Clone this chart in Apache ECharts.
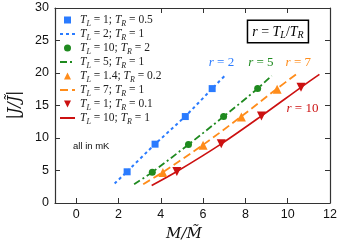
<!DOCTYPE html>
<html><head><meta charset="utf-8">
<script src="https://cdn.jsdelivr.net/npm/echarts@6/dist/echarts.min.js"></script>
<style>html,body{margin:0;padding:0;background:#fff}#c{width:342px;height:244px}</style>
</head><body><div id="c"></div>
<script>
// ---- data ----
const xTicks = [0, 2, 4, 6, 8, 10, 12];
const yTicks = [0, 5, 10, 15, 20, 25, 30];
// markers
const blueSquares = [[2.41, 4.8], [3.73, 9.05], [5.16, 13.3], [6.43, 17.6]];
const greenCircles = [[3.6, 4.75], [5.31, 9.0], [6.97, 13.3], [8.58, 17.6]];
const orangeTriangles = [[4.1, 4.7], [6.0, 8.9], [7.81, 13.25], [9.5, 17.5]];
const redTriangles = [[4.76, 4.85], [6.86, 9.1], [8.76, 13.4], [10.63, 17.8]];
// curves
const blueLine = [[1.82, 3.0], [2.41, 4.85], [3.73, 9.05], [5.16, 13.35], [6.43, 17.6], [7.03, 19.6]];
const greenLine = [[2.74, 2.9], [3.6, 4.75], [5.31, 9.0], [6.97, 13.3], [8.58, 17.6], [9.24, 19.6]];
const orangeLine = [[3.17, 2.9], [4.1, 4.75], [6.0, 8.95], [7.8, 13.3], [9.5, 17.6], [10.4, 19.8]];
const redLine = [[3.57, 2.7], [4.76, 4.85], [6.86, 9.1], [8.76, 13.4], [10.63, 17.8], [11.5, 19.8]];
const names = ['T_L=1;T_R=0.5', 'T_L=2;T_R=1', 'T_L=10;T_R=2', 'T_L=5;T_R=1',
               'T_L=1.4;T_R=0.2', 'T_L=7;T_R=1', 'T_L=1;T_R=0.1', 'T_L=10;T_R=1'];
const rLabels = [['r = 2', 6.87, 21.6], ['r = 5', 8.73, 21.6], ['r = 7', 10.5, 21.6], ['r = 10', 10.7, 14.6]];

const C = {blue: '#2a7bff', green: '#1f8a1f', orange: '#ff8c1a', red: '#cc1111'};
const SERIF = 'Liberation Serif';
const SANS = 'Liberation Sans';
const rich = {
  i: {fontFamily: SERIF, fontStyle: 'italic', fontSize: 11.5, lineHeight: 16, color: '#222'},
  n: {fontFamily: SERIF, fontSize: 11.5, lineHeight: 16, color: '#222'},
  s: {fontFamily: SERIF, fontStyle: 'italic', fontSize: 8, lineHeight: 16, verticalAlign: 'bottom', color: '#222'}
};
function fmt(name) {
  const m = name.match(/T_L=([\d.]+);T_R=([\d.]+)/);
  return '{i|T}{s|L}{n| = ' + m[1] + '; }{i|T}{s|R}{n| = ' + m[2] + '}';
}
const hidden = {color: 'rgba(0,0,0,0)', borderColor: 'rgba(0,0,0,0)', borderWidth: 0};
const legendIcons = {};
legendIcons[names[0]] = 'path://M0,0H10V10H0Z';
legendIcons[names[2]] = 'circle';
legendIcons[names[4]] = 'path://M5,0L10,10H0Z';
legendIcons[names[6]] = 'path://M0,0H10L5,10Z';
const legendData = names.map(function (n) {
  return legendIcons[n] ? {name: n, icon: legendIcons[n]} : {name: n};
});

const chart = echarts.init(document.getElementById('c'));
const option = {
  animation: false,
  backgroundColor: '#fff',
  grid: {left: 55, right: 12, top: 8, bottom: 41},
  xAxis: [
    {type: 'value', position: 'bottom', min: -1, max: 12, interval: 1,
     axisLine: {show: true, onZero: false, lineStyle: {color: '#333', width: 1.2}},
     axisTick: {inside: true, length: 5, lineStyle: {color: '#333'}, customValues: xTicks},
     axisLabel: {customValues: xTicks, color: '#111', fontFamily: SANS, fontSize: 12.5, margin: 5},
     splitLine: {show: false}},
    {type: 'value', position: 'top', min: -1, max: 12, interval: 1,
     axisLine: {show: true, onZero: false, lineStyle: {color: '#333', width: 1.2}},
     axisTick: {show: true, inside: true, length: 5, lineStyle: {color: '#333'}, customValues: [4, 6, 8, 10]},
     axisLabel: {show: false}, splitLine: {show: false}}
  ],
  yAxis: [
    {type: 'value', position: 'left', min: 0, max: 30, interval: 5,
     axisLine: {show: true, onZero: false, lineStyle: {color: '#333', width: 1.2}},
     axisTick: {show: true, inside: true, length: 5, lineStyle: {color: '#333'}, customValues: yTicks},
     axisLabel: {customValues: yTicks, color: '#111', fontFamily: SANS, fontSize: 12.5, margin: 6},
     splitLine: {show: false}},
    {type: 'value', position: 'right', min: 0, max: 30, interval: 5,
     axisLine: {show: true, onZero: false, lineStyle: {color: '#333', width: 1.2}},
     axisTick: {show: true, inside: true, length: 5, lineStyle: {color: '#333'}, customValues: [5, 10, 15, 20, 25]},
     axisLabel: {show: false}, splitLine: {show: false}}
  ],
  legend: {
    data: legendData, orient: 'vertical', left: 59, top: 14, padding: 0,
    itemWidth: 15, itemHeight: 7, itemGap: 0,
    symbolKeepAspect: true,
    textStyle: {rich: rich},
    formatter: fmt,
    selectedMode: false
  },
  series: [
    {name: names[1], type: 'line', data: blueLine, showSymbol: false, symbol: 'none', smooth: 0.3,
     lineStyle: {color: C.blue, width: 2, type: [3, 3]}, itemStyle: hidden},
    {name: names[3], type: 'line', data: greenLine, showSymbol: false, symbol: 'none', smooth: 0.3,
     lineStyle: {color: C.green, width: 1.8, type: [7, 3, 2, 3]}, itemStyle: hidden},
    {name: names[5], type: 'line', data: orangeLine, showSymbol: false, symbol: 'none', smooth: 0.3,
     lineStyle: {color: C.orange, width: 1.8, type: [8, 4]}, itemStyle: hidden},
    {name: names[7], type: 'line', data: redLine, showSymbol: false, symbol: 'none', smooth: 0.3,
     lineStyle: {color: C.red, width: 1.6, type: 'solid'}, itemStyle: hidden},
    {name: names[0], type: 'scatter', data: blueSquares, symbol: 'rect', symbolSize: 7, itemStyle: {color: C.blue, opacity: 1}, z: 5},
    {name: names[2], type: 'scatter', data: greenCircles, symbol: 'circle', symbolSize: 7, itemStyle: {color: C.green, opacity: 1}, z: 5},
    {name: names[4], type: 'scatter', data: orangeTriangles, symbol: 'triangle', symbolSize: 9, itemStyle: {color: C.orange, opacity: 1}, z: 5},
    {name: names[6], type: 'scatter', data: redTriangles, symbol: 'triangle', symbolRotate: 180, symbolSize: 9, itemStyle: {color: C.red, opacity: 1}, z: 5}
  ]
};
chart.setOption(option);

const colors = [C.blue, C.green, C.orange, C.red];
const graphics = rLabels.map(function (r, k) {
  const p = chart.convertToPixel({gridIndex: 0}, [r[1], r[2]]);
  const parts = r[0].split(' = ');
  return {type: 'text', x: p[0], y: p[1], z: 10,
    style: {text: '{i|' + parts[0] + '}{n| = ' + parts[1] + '}', align: 'center', verticalAlign: 'middle',
      rich: {i: {fontFamily: SERIF, fontStyle: 'italic', fontSize: 13, fill: colors[k]},
             n: {fontFamily: SERIF, fontSize: 13, fill: colors[k]}}}};
});
const bp = chart.convertToPixel({gridIndex: 0}, [9.54, 26.4]);
graphics.push({type: 'text', x: bp[0], y: bp[1], z: 10,
  style: {text: '{i|r}{n| = }{i|T}{s|L}{n|/}{i|T}{s|R}', align: 'center', verticalAlign: 'middle',
    backgroundColor: '#fff', borderColor: '#000', borderWidth: 1.5, padding: [3, 4, 2, 4],
    rich: {i: {fontFamily: SERIF, fontStyle: 'italic', fontSize: 14, lineHeight: 16, fill: '#000'},
           n: {fontFamily: SERIF, fontSize: 14, lineHeight: 16, fill: '#000'},
           s: {fontFamily: SERIF, fontStyle: 'italic', fontSize: 10, lineHeight: 16, verticalAlign: 'bottom', fill: '#000'}}}});
graphics.push({type: 'text', x: 73, y: 146, z: 10,
  style: {text: 'all in mK', fontFamily: SANS, fontSize: 9.5, fill: '#111', verticalAlign: 'middle'}});
graphics.push({type: 'text', x: 184, y: 234, z: 10,
  style: {text: 'M/M\u0303', fontFamily: 'DejaVu Serif', fontStyle: 'italic', fontSize: 15, fill: '#111', align: 'center', verticalAlign: 'middle'}});
graphics.push({type: 'text', x: 15, y: 105, rotation: Math.PI / 2, z: 10,
  style: {text: '|J/J\u0303|', fontFamily: 'DejaVu Serif', fontStyle: 'italic', fontSize: 16, fill: '#111', align: 'center', verticalAlign: 'middle'}});
chart.setOption({graphic: graphics});
</script></body></html>
